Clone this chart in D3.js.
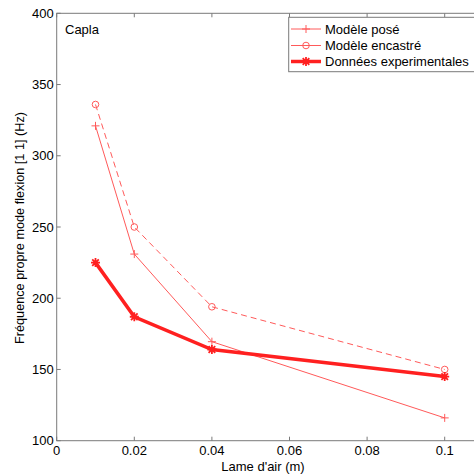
<!DOCTYPE html>
<html><head><meta charset="utf-8">
<script src="https://cdn.jsdelivr.net/npm/d3@7"></script>
<style>body{margin:0;background:#fff;overflow:hidden}svg{display:block}</style>
</head><body>
<svg id="c" width="474" height="476"></svg>
<script>
const xVals = [0.01, 0.02, 0.04, 0.1];
const posé = [321, 231, 169.5, 116];
const encastre = [336, 250, 194, 150];
const experimental = [225, 187, 164, 145];
const xTicks = [0, 0.02, 0.04, 0.06, 0.08, 0.1];
const xTickLabels = ["0", "0.02", "0.04", "0.06", "0.08", "0.1"];
const yTicks = [100, 150, 200, 250, 300, 350, 400];
const legendLabels = ["Modèle posé", "Modèle encastré", "Données experimentales"];

const svg = d3.select("#c");
const L = 56.7, T = 13.3, B = 440.7;
const x = d3.scaleLinear().domain([0, 0.12]).range([L, L + 465.6]);
const y = d3.scaleLinear().domain([100, 400]).range([B, T]);
const font = "Liberation Sans, Arial, sans-serif";
const axisCol = "#7a7a7a";

const g = svg.append("g");
g.append("rect").attr("x", L).attr("y", T).attr("width", x(0.12) - L).attr("height", B - T)
  .attr("fill", "none").attr("stroke", axisCol).attr("stroke-width", 1);
xTicks.forEach((t, i) => {
  g.append("line").attr("x1", x(t)).attr("x2", x(t)).attr("y1", B).attr("y2", B - 4).attr("stroke", axisCol);
  g.append("line").attr("x1", x(t)).attr("x2", x(t)).attr("y1", T).attr("y2", T + 4).attr("stroke", axisCol);
  g.append("text").attr("x", x(t)).attr("y", B + 14.5).attr("text-anchor", "middle")
    .attr("font-family", font).attr("font-size", 13).attr("fill", "#000").text(xTickLabels[i]);
});
yTicks.forEach(t => {
  g.append("line").attr("x1", L).attr("x2", L + 4).attr("y1", y(t)).attr("y2", y(t)).attr("stroke", axisCol);
  g.append("text").attr("x", L - 3).attr("y", y(t) + 4.5).attr("text-anchor", "end")
    .attr("font-family", font).attr("font-size", 13).attr("fill", "#000").text(t);
});
g.append("text").attr("x", 263).attr("y", 470.5).attr("text-anchor", "middle")
  .attr("font-family", font).attr("font-size", 13).text("Lame d'air (m)");
g.append("text").attr("transform", `translate(23.5,228) rotate(-90)`).attr("text-anchor", "middle")
  .attr("font-family", font).attr("font-size", 12.7).text("Fréquence propre mode flexion [1 1] (Hz)");
g.append("text").attr("x", 65).attr("y", 33.5).attr("font-family", font).attr("font-size", 13).text("Capla");

const line = d3.line().x(d => x(d[0])).y(d => y(d[1]));
const plot = svg.append("g");
const styles = [
  {data: posé, stroke: "#ff5a5a", w: 1, dash: null, marker: "plus"},
  {data: encastre, stroke: "#ff5a5a", w: 1, dash: "6,4", marker: "circle"},
  {data: experimental, stroke: "#ff2020", w: 3.5, dash: null, marker: "star"}
];
function drawMarker(sel, type, cx, cy, col) {
  if (type === "plus") {
    sel.append("path").attr("d", `M${cx-4},${cy}H${cx+4}M${cx},${cy-4}V${cy+4}`).attr("stroke", col).attr("stroke-width", 1).attr("fill", "none");
  } else if (type === "circle") {
    sel.append("circle").attr("cx", cx).attr("cy", cy).attr("r", 3.3).attr("stroke", col).attr("stroke-width", 1).attr("fill", "none");
  } else {
    sel.append("path").attr("d", `M${cx-4.5},${cy}H${cx+4.5}M${cx},${cy-4.5}V${cy+4.5}M${cx-3.3},${cy-3.3}L${cx+3.3},${cy+3.3}M${cx-3.3},${cy+3.3}L${cx+3.3},${cy-3.3}`)
      .attr("stroke", col).attr("stroke-width", 1.8).attr("fill", "none");
  }
}
styles.forEach(s => {
  const pts = xVals.map((v, i) => [v, s.data[i]]);
  plot.append("path").attr("d", line(pts)).attr("fill", "none").attr("stroke", s.stroke)
    .attr("stroke-width", s.w).attr("stroke-dasharray", s.dash);
  pts.forEach(p => drawMarker(plot, s.marker, x(p[0]), y(p[1]), s.stroke));
});

const lg = svg.append("g");
lg.append("rect").attr("x", 288.7).attr("y", 17.3).attr("width", 300).attr("height", 54.4)
  .attr("fill", "#fff").attr("stroke", axisCol).attr("stroke-width", 1);
const ly = [29, 45.5, 61.5];
styles.forEach((s, i) => {
  lg.append("line").attr("x1", 291).attr("x2", 321).attr("y1", ly[i]).attr("y2", ly[i])
    .attr("stroke", s.stroke).attr("stroke-width", s.w);
  drawMarker(lg, s.marker, 306, ly[i], s.stroke);
  lg.append("text").attr("x", 325).attr("y", ly[i] + 4.5).attr("font-family", font).attr("font-size", 13).text(legendLabels[i]);
});
</script>
</body></html>
